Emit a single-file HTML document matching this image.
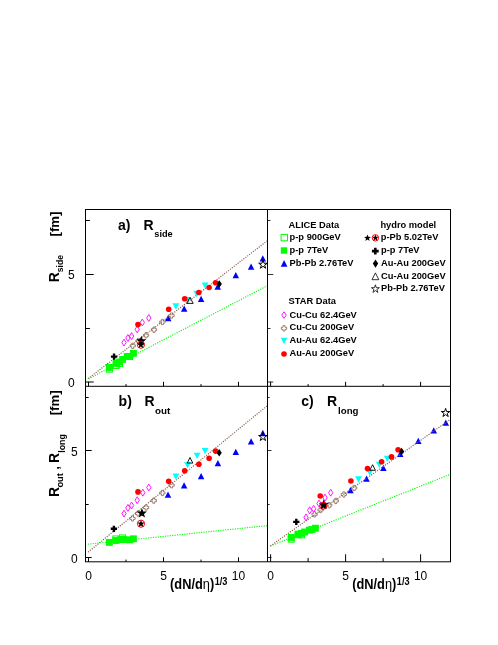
<!DOCTYPE html>
<html><head><meta charset="utf-8"><title>HBT radii</title>
<style>
html,body{margin:0;padding:0;background:#fff;}
body{width:498px;height:645px;position:relative;overflow:hidden;font-family:"Liberation Sans",sans-serif;}
</style></head><body>
<svg width="498" height="645" viewBox="0 0 498 645" style="position:absolute;left:0;top:0;font-family:'Liberation Sans',sans-serif">
<rect x="0" y="0" width="498" height="645" fill="#fff"/>
<rect x="106.45" y="366.20" width="5.9" height="5.9" fill="none" stroke="#00ff00" stroke-width="1"/>
<rect x="113.25" y="362.55" width="5.9" height="5.9" fill="none" stroke="#00ff00" stroke-width="1"/>
<rect x="116.65" y="360.65" width="5.9" height="5.9" fill="none" stroke="#00ff00" stroke-width="1"/>
<rect x="105.95" y="363.95" width="6.9" height="6.9" fill="#00ff00"/>
<rect x="112.65" y="359.95" width="6.9" height="6.9" fill="#00ff00"/>
<rect x="116.15" y="358.55" width="6.9" height="6.9" fill="#00ff00"/>
<rect x="119.15" y="355.95" width="6.9" height="6.9" fill="#00ff00"/>
<rect x="123.85" y="353.05" width="6.9" height="6.9" fill="#00ff00"/>
<rect x="126.25" y="353.15" width="6.9" height="6.9" fill="#00ff00"/>
<rect x="129.95" y="349.85" width="6.9" height="6.9" fill="#00ff00"/>
<polygon points="168.20,314.85 171.45,321.15 164.95,321.15" fill="#0000ff"/>
<polygon points="184.20,305.45 187.45,311.75 180.95,311.75" fill="#0000ff"/>
<polygon points="201.10,295.65 204.35,301.95 197.85,301.95" fill="#0000ff"/>
<polygon points="217.70,283.55 220.95,289.85 214.45,289.85" fill="#0000ff"/>
<polygon points="235.80,272.05 239.05,278.35 232.55,278.35" fill="#0000ff"/>
<polygon points="251.10,263.55 254.35,269.85 247.85,269.85" fill="#0000ff"/>
<polygon points="262.80,255.15 266.05,261.45 259.55,261.45" fill="#0000ff"/>
<rect x="112.75" y="535.95" width="5.9" height="5.9" fill="none" stroke="#00ff00" stroke-width="1"/>
<rect x="119.55" y="534.95" width="5.9" height="5.9" fill="none" stroke="#00ff00" stroke-width="1"/>
<rect x="105.95" y="538.95" width="6.9" height="6.9" fill="#00ff00"/>
<rect x="112.65" y="537.05" width="6.9" height="6.9" fill="#00ff00"/>
<rect x="117.55" y="536.15" width="6.9" height="6.9" fill="#00ff00"/>
<rect x="120.15" y="536.05" width="6.9" height="6.9" fill="#00ff00"/>
<rect x="126.05" y="536.35" width="6.9" height="6.9" fill="#00ff00"/>
<rect x="129.95" y="535.35" width="6.9" height="6.9" fill="#00ff00"/>
<polygon points="168.00,491.45 171.25,497.75 164.75,497.75" fill="#0000ff"/>
<polygon points="184.10,482.25 187.35,488.55 180.85,488.55" fill="#0000ff"/>
<polygon points="201.10,472.95 204.35,479.25 197.85,479.25" fill="#0000ff"/>
<polygon points="217.90,459.95 221.15,466.25 214.65,466.25" fill="#0000ff"/>
<polygon points="235.80,448.65 239.05,454.95 232.55,454.95" fill="#0000ff"/>
<polygon points="251.10,438.25 254.35,444.55 247.85,444.55" fill="#0000ff"/>
<polygon points="262.80,429.85 266.05,436.15 259.55,436.15" fill="#0000ff"/>
<rect x="288.25" y="536.25" width="5.9" height="5.9" fill="none" stroke="#00ff00" stroke-width="1"/>
<rect x="295.15" y="531.85" width="5.9" height="5.9" fill="none" stroke="#00ff00" stroke-width="1"/>
<rect x="298.65" y="531.95" width="5.9" height="5.9" fill="none" stroke="#00ff00" stroke-width="1"/>
<rect x="287.75" y="533.95" width="6.9" height="6.9" fill="#00ff00"/>
<rect x="294.65" y="530.70" width="6.9" height="6.9" fill="#00ff00"/>
<rect x="297.95" y="529.95" width="6.9" height="6.9" fill="#00ff00"/>
<rect x="301.15" y="528.55" width="6.9" height="6.9" fill="#00ff00"/>
<rect x="305.85" y="526.75" width="6.9" height="6.9" fill="#00ff00"/>
<rect x="308.55" y="526.05" width="6.9" height="6.9" fill="#00ff00"/>
<rect x="311.95" y="524.75" width="6.9" height="6.9" fill="#00ff00"/>
<polygon points="350.40,487.05 353.65,493.35 347.15,493.35" fill="#0000ff"/>
<polygon points="366.50,475.45 369.75,481.75 363.25,481.75" fill="#0000ff"/>
<polygon points="383.40,464.75 386.65,471.05 380.15,471.05" fill="#0000ff"/>
<polygon points="400.20,450.75 403.45,457.05 396.95,457.05" fill="#0000ff"/>
<polygon points="418.30,437.65 421.55,443.95 415.05,443.95" fill="#0000ff"/>
<polygon points="433.80,427.15 437.05,433.45 430.55,433.45" fill="#0000ff"/>
<polygon points="445.80,419.55 449.05,425.85 442.55,425.85" fill="#0000ff"/>
<path d="M87.82 378.30a0.68 0.68 0 1 0 1.36 0a0.68 0.68 0 1 0 -1.36 0M89.74 376.82a0.68 0.68 0 1 0 1.36 0a0.68 0.68 0 1 0 -1.36 0M91.66 375.35a0.68 0.68 0 1 0 1.36 0a0.68 0.68 0 1 0 -1.36 0M93.57 373.87a0.68 0.68 0 1 0 1.36 0a0.68 0.68 0 1 0 -1.36 0M95.49 372.40a0.68 0.68 0 1 0 1.36 0a0.68 0.68 0 1 0 -1.36 0M97.41 370.92a0.68 0.68 0 1 0 1.36 0a0.68 0.68 0 1 0 -1.36 0M99.33 369.45a0.68 0.68 0 1 0 1.36 0a0.68 0.68 0 1 0 -1.36 0M101.25 367.97a0.68 0.68 0 1 0 1.36 0a0.68 0.68 0 1 0 -1.36 0M103.17 366.50a0.68 0.68 0 1 0 1.36 0a0.68 0.68 0 1 0 -1.36 0M105.08 365.02a0.68 0.68 0 1 0 1.36 0a0.68 0.68 0 1 0 -1.36 0M107.00 363.55a0.68 0.68 0 1 0 1.36 0a0.68 0.68 0 1 0 -1.36 0M108.92 362.07a0.68 0.68 0 1 0 1.36 0a0.68 0.68 0 1 0 -1.36 0M110.84 360.60a0.68 0.68 0 1 0 1.36 0a0.68 0.68 0 1 0 -1.36 0M112.76 359.12a0.68 0.68 0 1 0 1.36 0a0.68 0.68 0 1 0 -1.36 0M114.68 357.64a0.68 0.68 0 1 0 1.36 0a0.68 0.68 0 1 0 -1.36 0M116.59 356.17a0.68 0.68 0 1 0 1.36 0a0.68 0.68 0 1 0 -1.36 0M118.51 354.69a0.68 0.68 0 1 0 1.36 0a0.68 0.68 0 1 0 -1.36 0M120.43 353.22a0.68 0.68 0 1 0 1.36 0a0.68 0.68 0 1 0 -1.36 0M122.35 351.74a0.68 0.68 0 1 0 1.36 0a0.68 0.68 0 1 0 -1.36 0M124.27 350.27a0.68 0.68 0 1 0 1.36 0a0.68 0.68 0 1 0 -1.36 0M126.18 348.79a0.68 0.68 0 1 0 1.36 0a0.68 0.68 0 1 0 -1.36 0M128.10 347.32a0.68 0.68 0 1 0 1.36 0a0.68 0.68 0 1 0 -1.36 0M130.02 345.84a0.68 0.68 0 1 0 1.36 0a0.68 0.68 0 1 0 -1.36 0M131.94 344.37a0.68 0.68 0 1 0 1.36 0a0.68 0.68 0 1 0 -1.36 0M133.86 342.89a0.68 0.68 0 1 0 1.36 0a0.68 0.68 0 1 0 -1.36 0M135.78 341.42a0.68 0.68 0 1 0 1.36 0a0.68 0.68 0 1 0 -1.36 0M137.69 339.94a0.68 0.68 0 1 0 1.36 0a0.68 0.68 0 1 0 -1.36 0M139.61 338.46a0.68 0.68 0 1 0 1.36 0a0.68 0.68 0 1 0 -1.36 0M141.53 336.99a0.68 0.68 0 1 0 1.36 0a0.68 0.68 0 1 0 -1.36 0M143.45 335.51a0.68 0.68 0 1 0 1.36 0a0.68 0.68 0 1 0 -1.36 0M145.37 334.04a0.68 0.68 0 1 0 1.36 0a0.68 0.68 0 1 0 -1.36 0M147.29 332.56a0.68 0.68 0 1 0 1.36 0a0.68 0.68 0 1 0 -1.36 0M149.20 331.09a0.68 0.68 0 1 0 1.36 0a0.68 0.68 0 1 0 -1.36 0M151.12 329.61a0.68 0.68 0 1 0 1.36 0a0.68 0.68 0 1 0 -1.36 0M153.04 328.14a0.68 0.68 0 1 0 1.36 0a0.68 0.68 0 1 0 -1.36 0M154.96 326.66a0.68 0.68 0 1 0 1.36 0a0.68 0.68 0 1 0 -1.36 0M156.88 325.19a0.68 0.68 0 1 0 1.36 0a0.68 0.68 0 1 0 -1.36 0M158.79 323.71a0.68 0.68 0 1 0 1.36 0a0.68 0.68 0 1 0 -1.36 0M160.71 322.23a0.68 0.68 0 1 0 1.36 0a0.68 0.68 0 1 0 -1.36 0M162.63 320.76a0.68 0.68 0 1 0 1.36 0a0.68 0.68 0 1 0 -1.36 0M164.55 319.28a0.68 0.68 0 1 0 1.36 0a0.68 0.68 0 1 0 -1.36 0M166.47 317.81a0.68 0.68 0 1 0 1.36 0a0.68 0.68 0 1 0 -1.36 0M168.39 316.33a0.68 0.68 0 1 0 1.36 0a0.68 0.68 0 1 0 -1.36 0M170.30 314.86a0.68 0.68 0 1 0 1.36 0a0.68 0.68 0 1 0 -1.36 0M172.22 313.38a0.68 0.68 0 1 0 1.36 0a0.68 0.68 0 1 0 -1.36 0M174.14 311.91a0.68 0.68 0 1 0 1.36 0a0.68 0.68 0 1 0 -1.36 0M176.06 310.43a0.68 0.68 0 1 0 1.36 0a0.68 0.68 0 1 0 -1.36 0M177.98 308.96a0.68 0.68 0 1 0 1.36 0a0.68 0.68 0 1 0 -1.36 0M179.90 307.48a0.68 0.68 0 1 0 1.36 0a0.68 0.68 0 1 0 -1.36 0M181.81 306.01a0.68 0.68 0 1 0 1.36 0a0.68 0.68 0 1 0 -1.36 0M183.73 304.53a0.68 0.68 0 1 0 1.36 0a0.68 0.68 0 1 0 -1.36 0M185.65 303.05a0.68 0.68 0 1 0 1.36 0a0.68 0.68 0 1 0 -1.36 0M187.57 301.58a0.68 0.68 0 1 0 1.36 0a0.68 0.68 0 1 0 -1.36 0M189.49 300.10a0.68 0.68 0 1 0 1.36 0a0.68 0.68 0 1 0 -1.36 0M191.40 298.63a0.68 0.68 0 1 0 1.36 0a0.68 0.68 0 1 0 -1.36 0M193.32 297.15a0.68 0.68 0 1 0 1.36 0a0.68 0.68 0 1 0 -1.36 0M195.24 295.68a0.68 0.68 0 1 0 1.36 0a0.68 0.68 0 1 0 -1.36 0M197.16 294.20a0.68 0.68 0 1 0 1.36 0a0.68 0.68 0 1 0 -1.36 0M199.08 292.73a0.68 0.68 0 1 0 1.36 0a0.68 0.68 0 1 0 -1.36 0M201.00 291.25a0.68 0.68 0 1 0 1.36 0a0.68 0.68 0 1 0 -1.36 0M202.91 289.78a0.68 0.68 0 1 0 1.36 0a0.68 0.68 0 1 0 -1.36 0M204.83 288.30a0.68 0.68 0 1 0 1.36 0a0.68 0.68 0 1 0 -1.36 0M206.75 286.83a0.68 0.68 0 1 0 1.36 0a0.68 0.68 0 1 0 -1.36 0M208.67 285.35a0.68 0.68 0 1 0 1.36 0a0.68 0.68 0 1 0 -1.36 0M210.59 283.87a0.68 0.68 0 1 0 1.36 0a0.68 0.68 0 1 0 -1.36 0M212.50 282.40a0.68 0.68 0 1 0 1.36 0a0.68 0.68 0 1 0 -1.36 0M214.42 280.92a0.68 0.68 0 1 0 1.36 0a0.68 0.68 0 1 0 -1.36 0M216.34 279.45a0.68 0.68 0 1 0 1.36 0a0.68 0.68 0 1 0 -1.36 0M218.26 277.97a0.68 0.68 0 1 0 1.36 0a0.68 0.68 0 1 0 -1.36 0M220.18 276.50a0.68 0.68 0 1 0 1.36 0a0.68 0.68 0 1 0 -1.36 0M222.10 275.02a0.68 0.68 0 1 0 1.36 0a0.68 0.68 0 1 0 -1.36 0M224.01 273.55a0.68 0.68 0 1 0 1.36 0a0.68 0.68 0 1 0 -1.36 0M225.93 272.07a0.68 0.68 0 1 0 1.36 0a0.68 0.68 0 1 0 -1.36 0M227.85 270.60a0.68 0.68 0 1 0 1.36 0a0.68 0.68 0 1 0 -1.36 0M229.77 269.12a0.68 0.68 0 1 0 1.36 0a0.68 0.68 0 1 0 -1.36 0M231.69 267.65a0.68 0.68 0 1 0 1.36 0a0.68 0.68 0 1 0 -1.36 0M233.61 266.17a0.68 0.68 0 1 0 1.36 0a0.68 0.68 0 1 0 -1.36 0M235.52 264.69a0.68 0.68 0 1 0 1.36 0a0.68 0.68 0 1 0 -1.36 0M237.44 263.22a0.68 0.68 0 1 0 1.36 0a0.68 0.68 0 1 0 -1.36 0M239.36 261.74a0.68 0.68 0 1 0 1.36 0a0.68 0.68 0 1 0 -1.36 0M241.28 260.27a0.68 0.68 0 1 0 1.36 0a0.68 0.68 0 1 0 -1.36 0M243.20 258.79a0.68 0.68 0 1 0 1.36 0a0.68 0.68 0 1 0 -1.36 0M245.11 257.32a0.68 0.68 0 1 0 1.36 0a0.68 0.68 0 1 0 -1.36 0M247.03 255.84a0.68 0.68 0 1 0 1.36 0a0.68 0.68 0 1 0 -1.36 0M248.95 254.37a0.68 0.68 0 1 0 1.36 0a0.68 0.68 0 1 0 -1.36 0M250.87 252.89a0.68 0.68 0 1 0 1.36 0a0.68 0.68 0 1 0 -1.36 0M252.79 251.42a0.68 0.68 0 1 0 1.36 0a0.68 0.68 0 1 0 -1.36 0M254.71 249.94a0.68 0.68 0 1 0 1.36 0a0.68 0.68 0 1 0 -1.36 0M256.62 248.47a0.68 0.68 0 1 0 1.36 0a0.68 0.68 0 1 0 -1.36 0M258.54 246.99a0.68 0.68 0 1 0 1.36 0a0.68 0.68 0 1 0 -1.36 0M260.46 245.51a0.68 0.68 0 1 0 1.36 0a0.68 0.68 0 1 0 -1.36 0M262.38 244.04a0.68 0.68 0 1 0 1.36 0a0.68 0.68 0 1 0 -1.36 0M264.30 242.56a0.68 0.68 0 1 0 1.36 0a0.68 0.68 0 1 0 -1.36 0M266.22 241.09a0.68 0.68 0 1 0 1.36 0a0.68 0.68 0 1 0 -1.36 0" fill="#8a6355"/>
<path d="M88.32 378.50a0.68 0.68 0 1 0 1.36 0a0.68 0.68 0 1 0 -1.36 0M90.47 377.38a0.68 0.68 0 1 0 1.36 0a0.68 0.68 0 1 0 -1.36 0M92.61 376.27a0.68 0.68 0 1 0 1.36 0a0.68 0.68 0 1 0 -1.36 0M94.76 375.15a0.68 0.68 0 1 0 1.36 0a0.68 0.68 0 1 0 -1.36 0M96.91 374.03a0.68 0.68 0 1 0 1.36 0a0.68 0.68 0 1 0 -1.36 0M99.05 372.92a0.68 0.68 0 1 0 1.36 0a0.68 0.68 0 1 0 -1.36 0M101.20 371.80a0.68 0.68 0 1 0 1.36 0a0.68 0.68 0 1 0 -1.36 0M103.35 370.68a0.68 0.68 0 1 0 1.36 0a0.68 0.68 0 1 0 -1.36 0M105.50 369.57a0.68 0.68 0 1 0 1.36 0a0.68 0.68 0 1 0 -1.36 0M107.64 368.45a0.68 0.68 0 1 0 1.36 0a0.68 0.68 0 1 0 -1.36 0M109.79 367.33a0.68 0.68 0 1 0 1.36 0a0.68 0.68 0 1 0 -1.36 0M111.94 366.22a0.68 0.68 0 1 0 1.36 0a0.68 0.68 0 1 0 -1.36 0M114.08 365.10a0.68 0.68 0 1 0 1.36 0a0.68 0.68 0 1 0 -1.36 0M116.23 363.98a0.68 0.68 0 1 0 1.36 0a0.68 0.68 0 1 0 -1.36 0M118.38 362.87a0.68 0.68 0 1 0 1.36 0a0.68 0.68 0 1 0 -1.36 0M120.52 361.75a0.68 0.68 0 1 0 1.36 0a0.68 0.68 0 1 0 -1.36 0M122.67 360.63a0.68 0.68 0 1 0 1.36 0a0.68 0.68 0 1 0 -1.36 0M124.82 359.51a0.68 0.68 0 1 0 1.36 0a0.68 0.68 0 1 0 -1.36 0M126.96 358.40a0.68 0.68 0 1 0 1.36 0a0.68 0.68 0 1 0 -1.36 0M129.11 357.28a0.68 0.68 0 1 0 1.36 0a0.68 0.68 0 1 0 -1.36 0M131.26 356.16a0.68 0.68 0 1 0 1.36 0a0.68 0.68 0 1 0 -1.36 0M133.41 355.05a0.68 0.68 0 1 0 1.36 0a0.68 0.68 0 1 0 -1.36 0M135.55 353.93a0.68 0.68 0 1 0 1.36 0a0.68 0.68 0 1 0 -1.36 0M137.70 352.81a0.68 0.68 0 1 0 1.36 0a0.68 0.68 0 1 0 -1.36 0M139.85 351.70a0.68 0.68 0 1 0 1.36 0a0.68 0.68 0 1 0 -1.36 0M141.99 350.58a0.68 0.68 0 1 0 1.36 0a0.68 0.68 0 1 0 -1.36 0M144.14 349.46a0.68 0.68 0 1 0 1.36 0a0.68 0.68 0 1 0 -1.36 0M146.29 348.35a0.68 0.68 0 1 0 1.36 0a0.68 0.68 0 1 0 -1.36 0M148.43 347.23a0.68 0.68 0 1 0 1.36 0a0.68 0.68 0 1 0 -1.36 0M150.58 346.11a0.68 0.68 0 1 0 1.36 0a0.68 0.68 0 1 0 -1.36 0M152.73 345.00a0.68 0.68 0 1 0 1.36 0a0.68 0.68 0 1 0 -1.36 0M154.87 343.88a0.68 0.68 0 1 0 1.36 0a0.68 0.68 0 1 0 -1.36 0M157.02 342.76a0.68 0.68 0 1 0 1.36 0a0.68 0.68 0 1 0 -1.36 0M159.17 341.65a0.68 0.68 0 1 0 1.36 0a0.68 0.68 0 1 0 -1.36 0M161.31 340.53a0.68 0.68 0 1 0 1.36 0a0.68 0.68 0 1 0 -1.36 0M163.46 339.41a0.68 0.68 0 1 0 1.36 0a0.68 0.68 0 1 0 -1.36 0M165.61 338.30a0.68 0.68 0 1 0 1.36 0a0.68 0.68 0 1 0 -1.36 0M167.76 337.18a0.68 0.68 0 1 0 1.36 0a0.68 0.68 0 1 0 -1.36 0M169.90 336.06a0.68 0.68 0 1 0 1.36 0a0.68 0.68 0 1 0 -1.36 0M172.05 334.95a0.68 0.68 0 1 0 1.36 0a0.68 0.68 0 1 0 -1.36 0M174.20 333.83a0.68 0.68 0 1 0 1.36 0a0.68 0.68 0 1 0 -1.36 0M176.34 332.71a0.68 0.68 0 1 0 1.36 0a0.68 0.68 0 1 0 -1.36 0M178.49 331.60a0.68 0.68 0 1 0 1.36 0a0.68 0.68 0 1 0 -1.36 0M180.64 330.48a0.68 0.68 0 1 0 1.36 0a0.68 0.68 0 1 0 -1.36 0M182.78 329.36a0.68 0.68 0 1 0 1.36 0a0.68 0.68 0 1 0 -1.36 0M184.93 328.25a0.68 0.68 0 1 0 1.36 0a0.68 0.68 0 1 0 -1.36 0M187.08 327.13a0.68 0.68 0 1 0 1.36 0a0.68 0.68 0 1 0 -1.36 0M189.22 326.01a0.68 0.68 0 1 0 1.36 0a0.68 0.68 0 1 0 -1.36 0M191.37 324.89a0.68 0.68 0 1 0 1.36 0a0.68 0.68 0 1 0 -1.36 0M193.52 323.78a0.68 0.68 0 1 0 1.36 0a0.68 0.68 0 1 0 -1.36 0M195.67 322.66a0.68 0.68 0 1 0 1.36 0a0.68 0.68 0 1 0 -1.36 0M197.81 321.54a0.68 0.68 0 1 0 1.36 0a0.68 0.68 0 1 0 -1.36 0M199.96 320.43a0.68 0.68 0 1 0 1.36 0a0.68 0.68 0 1 0 -1.36 0M202.11 319.31a0.68 0.68 0 1 0 1.36 0a0.68 0.68 0 1 0 -1.36 0M204.25 318.19a0.68 0.68 0 1 0 1.36 0a0.68 0.68 0 1 0 -1.36 0M206.40 317.08a0.68 0.68 0 1 0 1.36 0a0.68 0.68 0 1 0 -1.36 0M208.55 315.96a0.68 0.68 0 1 0 1.36 0a0.68 0.68 0 1 0 -1.36 0M210.69 314.84a0.68 0.68 0 1 0 1.36 0a0.68 0.68 0 1 0 -1.36 0M212.84 313.73a0.68 0.68 0 1 0 1.36 0a0.68 0.68 0 1 0 -1.36 0M214.99 312.61a0.68 0.68 0 1 0 1.36 0a0.68 0.68 0 1 0 -1.36 0M217.13 311.49a0.68 0.68 0 1 0 1.36 0a0.68 0.68 0 1 0 -1.36 0M219.28 310.38a0.68 0.68 0 1 0 1.36 0a0.68 0.68 0 1 0 -1.36 0M221.43 309.26a0.68 0.68 0 1 0 1.36 0a0.68 0.68 0 1 0 -1.36 0M223.58 308.14a0.68 0.68 0 1 0 1.36 0a0.68 0.68 0 1 0 -1.36 0M225.72 307.03a0.68 0.68 0 1 0 1.36 0a0.68 0.68 0 1 0 -1.36 0M227.87 305.91a0.68 0.68 0 1 0 1.36 0a0.68 0.68 0 1 0 -1.36 0M230.02 304.79a0.68 0.68 0 1 0 1.36 0a0.68 0.68 0 1 0 -1.36 0M232.16 303.68a0.68 0.68 0 1 0 1.36 0a0.68 0.68 0 1 0 -1.36 0M234.31 302.56a0.68 0.68 0 1 0 1.36 0a0.68 0.68 0 1 0 -1.36 0M236.46 301.44a0.68 0.68 0 1 0 1.36 0a0.68 0.68 0 1 0 -1.36 0M238.60 300.33a0.68 0.68 0 1 0 1.36 0a0.68 0.68 0 1 0 -1.36 0M240.75 299.21a0.68 0.68 0 1 0 1.36 0a0.68 0.68 0 1 0 -1.36 0M242.90 298.09a0.68 0.68 0 1 0 1.36 0a0.68 0.68 0 1 0 -1.36 0M245.04 296.98a0.68 0.68 0 1 0 1.36 0a0.68 0.68 0 1 0 -1.36 0M247.19 295.86a0.68 0.68 0 1 0 1.36 0a0.68 0.68 0 1 0 -1.36 0M249.34 294.74a0.68 0.68 0 1 0 1.36 0a0.68 0.68 0 1 0 -1.36 0M251.48 293.62a0.68 0.68 0 1 0 1.36 0a0.68 0.68 0 1 0 -1.36 0M253.63 292.51a0.68 0.68 0 1 0 1.36 0a0.68 0.68 0 1 0 -1.36 0M255.78 291.39a0.68 0.68 0 1 0 1.36 0a0.68 0.68 0 1 0 -1.36 0M257.93 290.27a0.68 0.68 0 1 0 1.36 0a0.68 0.68 0 1 0 -1.36 0M260.07 289.16a0.68 0.68 0 1 0 1.36 0a0.68 0.68 0 1 0 -1.36 0M262.22 288.04a0.68 0.68 0 1 0 1.36 0a0.68 0.68 0 1 0 -1.36 0M264.37 286.92a0.68 0.68 0 1 0 1.36 0a0.68 0.68 0 1 0 -1.36 0M266.51 285.81a0.68 0.68 0 1 0 1.36 0a0.68 0.68 0 1 0 -1.36 0" fill="#00ff00"/>
<path d="M87.82 551.80a0.68 0.68 0 1 0 1.36 0a0.68 0.68 0 1 0 -1.36 0M89.69 550.27a0.68 0.68 0 1 0 1.36 0a0.68 0.68 0 1 0 -1.36 0M91.57 548.74a0.68 0.68 0 1 0 1.36 0a0.68 0.68 0 1 0 -1.36 0M93.44 547.21a0.68 0.68 0 1 0 1.36 0a0.68 0.68 0 1 0 -1.36 0M95.32 545.67a0.68 0.68 0 1 0 1.36 0a0.68 0.68 0 1 0 -1.36 0M97.19 544.14a0.68 0.68 0 1 0 1.36 0a0.68 0.68 0 1 0 -1.36 0M99.06 542.61a0.68 0.68 0 1 0 1.36 0a0.68 0.68 0 1 0 -1.36 0M100.94 541.08a0.68 0.68 0 1 0 1.36 0a0.68 0.68 0 1 0 -1.36 0M102.81 539.55a0.68 0.68 0 1 0 1.36 0a0.68 0.68 0 1 0 -1.36 0M104.68 538.02a0.68 0.68 0 1 0 1.36 0a0.68 0.68 0 1 0 -1.36 0M106.56 536.49a0.68 0.68 0 1 0 1.36 0a0.68 0.68 0 1 0 -1.36 0M108.43 534.96a0.68 0.68 0 1 0 1.36 0a0.68 0.68 0 1 0 -1.36 0M110.31 533.42a0.68 0.68 0 1 0 1.36 0a0.68 0.68 0 1 0 -1.36 0M112.18 531.89a0.68 0.68 0 1 0 1.36 0a0.68 0.68 0 1 0 -1.36 0M114.05 530.36a0.68 0.68 0 1 0 1.36 0a0.68 0.68 0 1 0 -1.36 0M115.93 528.83a0.68 0.68 0 1 0 1.36 0a0.68 0.68 0 1 0 -1.36 0M117.80 527.30a0.68 0.68 0 1 0 1.36 0a0.68 0.68 0 1 0 -1.36 0M119.68 525.77a0.68 0.68 0 1 0 1.36 0a0.68 0.68 0 1 0 -1.36 0M121.55 524.24a0.68 0.68 0 1 0 1.36 0a0.68 0.68 0 1 0 -1.36 0M123.42 522.70a0.68 0.68 0 1 0 1.36 0a0.68 0.68 0 1 0 -1.36 0M125.30 521.17a0.68 0.68 0 1 0 1.36 0a0.68 0.68 0 1 0 -1.36 0M127.17 519.64a0.68 0.68 0 1 0 1.36 0a0.68 0.68 0 1 0 -1.36 0M129.04 518.11a0.68 0.68 0 1 0 1.36 0a0.68 0.68 0 1 0 -1.36 0M130.92 516.58a0.68 0.68 0 1 0 1.36 0a0.68 0.68 0 1 0 -1.36 0M132.79 515.05a0.68 0.68 0 1 0 1.36 0a0.68 0.68 0 1 0 -1.36 0M134.67 513.52a0.68 0.68 0 1 0 1.36 0a0.68 0.68 0 1 0 -1.36 0M136.54 511.98a0.68 0.68 0 1 0 1.36 0a0.68 0.68 0 1 0 -1.36 0M138.41 510.45a0.68 0.68 0 1 0 1.36 0a0.68 0.68 0 1 0 -1.36 0M140.29 508.92a0.68 0.68 0 1 0 1.36 0a0.68 0.68 0 1 0 -1.36 0M142.16 507.39a0.68 0.68 0 1 0 1.36 0a0.68 0.68 0 1 0 -1.36 0M144.04 505.86a0.68 0.68 0 1 0 1.36 0a0.68 0.68 0 1 0 -1.36 0M145.91 504.33a0.68 0.68 0 1 0 1.36 0a0.68 0.68 0 1 0 -1.36 0M147.78 502.80a0.68 0.68 0 1 0 1.36 0a0.68 0.68 0 1 0 -1.36 0M149.66 501.27a0.68 0.68 0 1 0 1.36 0a0.68 0.68 0 1 0 -1.36 0M151.53 499.73a0.68 0.68 0 1 0 1.36 0a0.68 0.68 0 1 0 -1.36 0M153.41 498.20a0.68 0.68 0 1 0 1.36 0a0.68 0.68 0 1 0 -1.36 0M155.28 496.67a0.68 0.68 0 1 0 1.36 0a0.68 0.68 0 1 0 -1.36 0M157.15 495.14a0.68 0.68 0 1 0 1.36 0a0.68 0.68 0 1 0 -1.36 0M159.03 493.61a0.68 0.68 0 1 0 1.36 0a0.68 0.68 0 1 0 -1.36 0M160.90 492.08a0.68 0.68 0 1 0 1.36 0a0.68 0.68 0 1 0 -1.36 0M162.77 490.55a0.68 0.68 0 1 0 1.36 0a0.68 0.68 0 1 0 -1.36 0M164.65 489.01a0.68 0.68 0 1 0 1.36 0a0.68 0.68 0 1 0 -1.36 0M166.52 487.48a0.68 0.68 0 1 0 1.36 0a0.68 0.68 0 1 0 -1.36 0M168.40 485.95a0.68 0.68 0 1 0 1.36 0a0.68 0.68 0 1 0 -1.36 0M170.27 484.42a0.68 0.68 0 1 0 1.36 0a0.68 0.68 0 1 0 -1.36 0M172.14 482.89a0.68 0.68 0 1 0 1.36 0a0.68 0.68 0 1 0 -1.36 0M174.02 481.36a0.68 0.68 0 1 0 1.36 0a0.68 0.68 0 1 0 -1.36 0M175.89 479.83a0.68 0.68 0 1 0 1.36 0a0.68 0.68 0 1 0 -1.36 0M177.77 478.30a0.68 0.68 0 1 0 1.36 0a0.68 0.68 0 1 0 -1.36 0M179.64 476.76a0.68 0.68 0 1 0 1.36 0a0.68 0.68 0 1 0 -1.36 0M181.51 475.23a0.68 0.68 0 1 0 1.36 0a0.68 0.68 0 1 0 -1.36 0M183.39 473.70a0.68 0.68 0 1 0 1.36 0a0.68 0.68 0 1 0 -1.36 0M185.26 472.17a0.68 0.68 0 1 0 1.36 0a0.68 0.68 0 1 0 -1.36 0M187.13 470.64a0.68 0.68 0 1 0 1.36 0a0.68 0.68 0 1 0 -1.36 0M189.01 469.11a0.68 0.68 0 1 0 1.36 0a0.68 0.68 0 1 0 -1.36 0M190.88 467.58a0.68 0.68 0 1 0 1.36 0a0.68 0.68 0 1 0 -1.36 0M192.76 466.04a0.68 0.68 0 1 0 1.36 0a0.68 0.68 0 1 0 -1.36 0M194.63 464.51a0.68 0.68 0 1 0 1.36 0a0.68 0.68 0 1 0 -1.36 0M196.50 462.98a0.68 0.68 0 1 0 1.36 0a0.68 0.68 0 1 0 -1.36 0M198.38 461.45a0.68 0.68 0 1 0 1.36 0a0.68 0.68 0 1 0 -1.36 0M200.25 459.92a0.68 0.68 0 1 0 1.36 0a0.68 0.68 0 1 0 -1.36 0M202.13 458.39a0.68 0.68 0 1 0 1.36 0a0.68 0.68 0 1 0 -1.36 0M204.00 456.86a0.68 0.68 0 1 0 1.36 0a0.68 0.68 0 1 0 -1.36 0M205.87 455.32a0.68 0.68 0 1 0 1.36 0a0.68 0.68 0 1 0 -1.36 0M207.75 453.79a0.68 0.68 0 1 0 1.36 0a0.68 0.68 0 1 0 -1.36 0M209.62 452.26a0.68 0.68 0 1 0 1.36 0a0.68 0.68 0 1 0 -1.36 0M211.49 450.73a0.68 0.68 0 1 0 1.36 0a0.68 0.68 0 1 0 -1.36 0M213.37 449.20a0.68 0.68 0 1 0 1.36 0a0.68 0.68 0 1 0 -1.36 0M215.24 447.67a0.68 0.68 0 1 0 1.36 0a0.68 0.68 0 1 0 -1.36 0M217.12 446.14a0.68 0.68 0 1 0 1.36 0a0.68 0.68 0 1 0 -1.36 0M218.99 444.61a0.68 0.68 0 1 0 1.36 0a0.68 0.68 0 1 0 -1.36 0M220.86 443.07a0.68 0.68 0 1 0 1.36 0a0.68 0.68 0 1 0 -1.36 0M222.74 441.54a0.68 0.68 0 1 0 1.36 0a0.68 0.68 0 1 0 -1.36 0M224.61 440.01a0.68 0.68 0 1 0 1.36 0a0.68 0.68 0 1 0 -1.36 0M226.49 438.48a0.68 0.68 0 1 0 1.36 0a0.68 0.68 0 1 0 -1.36 0M228.36 436.95a0.68 0.68 0 1 0 1.36 0a0.68 0.68 0 1 0 -1.36 0M230.23 435.42a0.68 0.68 0 1 0 1.36 0a0.68 0.68 0 1 0 -1.36 0M232.11 433.89a0.68 0.68 0 1 0 1.36 0a0.68 0.68 0 1 0 -1.36 0M233.98 432.35a0.68 0.68 0 1 0 1.36 0a0.68 0.68 0 1 0 -1.36 0M235.86 430.82a0.68 0.68 0 1 0 1.36 0a0.68 0.68 0 1 0 -1.36 0M237.73 429.29a0.68 0.68 0 1 0 1.36 0a0.68 0.68 0 1 0 -1.36 0M239.60 427.76a0.68 0.68 0 1 0 1.36 0a0.68 0.68 0 1 0 -1.36 0M241.48 426.23a0.68 0.68 0 1 0 1.36 0a0.68 0.68 0 1 0 -1.36 0M243.35 424.70a0.68 0.68 0 1 0 1.36 0a0.68 0.68 0 1 0 -1.36 0M245.22 423.17a0.68 0.68 0 1 0 1.36 0a0.68 0.68 0 1 0 -1.36 0M247.10 421.64a0.68 0.68 0 1 0 1.36 0a0.68 0.68 0 1 0 -1.36 0M248.97 420.10a0.68 0.68 0 1 0 1.36 0a0.68 0.68 0 1 0 -1.36 0M250.85 418.57a0.68 0.68 0 1 0 1.36 0a0.68 0.68 0 1 0 -1.36 0M252.72 417.04a0.68 0.68 0 1 0 1.36 0a0.68 0.68 0 1 0 -1.36 0M254.59 415.51a0.68 0.68 0 1 0 1.36 0a0.68 0.68 0 1 0 -1.36 0M256.47 413.98a0.68 0.68 0 1 0 1.36 0a0.68 0.68 0 1 0 -1.36 0M258.34 412.45a0.68 0.68 0 1 0 1.36 0a0.68 0.68 0 1 0 -1.36 0M260.22 410.92a0.68 0.68 0 1 0 1.36 0a0.68 0.68 0 1 0 -1.36 0M262.09 409.38a0.68 0.68 0 1 0 1.36 0a0.68 0.68 0 1 0 -1.36 0M263.96 407.85a0.68 0.68 0 1 0 1.36 0a0.68 0.68 0 1 0 -1.36 0M265.84 406.32a0.68 0.68 0 1 0 1.36 0a0.68 0.68 0 1 0 -1.36 0" fill="#8a6355"/>
<path d="M87.82 544.10a0.68 0.68 0 1 0 1.36 0a0.68 0.68 0 1 0 -1.36 0M90.23 543.85a0.68 0.68 0 1 0 1.36 0a0.68 0.68 0 1 0 -1.36 0M92.63 543.60a0.68 0.68 0 1 0 1.36 0a0.68 0.68 0 1 0 -1.36 0M95.04 543.35a0.68 0.68 0 1 0 1.36 0a0.68 0.68 0 1 0 -1.36 0M97.45 543.10a0.68 0.68 0 1 0 1.36 0a0.68 0.68 0 1 0 -1.36 0M99.86 542.86a0.68 0.68 0 1 0 1.36 0a0.68 0.68 0 1 0 -1.36 0M102.26 542.61a0.68 0.68 0 1 0 1.36 0a0.68 0.68 0 1 0 -1.36 0M104.67 542.36a0.68 0.68 0 1 0 1.36 0a0.68 0.68 0 1 0 -1.36 0M107.08 542.11a0.68 0.68 0 1 0 1.36 0a0.68 0.68 0 1 0 -1.36 0M109.48 541.86a0.68 0.68 0 1 0 1.36 0a0.68 0.68 0 1 0 -1.36 0M111.89 541.61a0.68 0.68 0 1 0 1.36 0a0.68 0.68 0 1 0 -1.36 0M114.30 541.36a0.68 0.68 0 1 0 1.36 0a0.68 0.68 0 1 0 -1.36 0M116.71 541.11a0.68 0.68 0 1 0 1.36 0a0.68 0.68 0 1 0 -1.36 0M119.11 540.86a0.68 0.68 0 1 0 1.36 0a0.68 0.68 0 1 0 -1.36 0M121.52 540.62a0.68 0.68 0 1 0 1.36 0a0.68 0.68 0 1 0 -1.36 0M123.93 540.37a0.68 0.68 0 1 0 1.36 0a0.68 0.68 0 1 0 -1.36 0M126.33 540.12a0.68 0.68 0 1 0 1.36 0a0.68 0.68 0 1 0 -1.36 0M128.74 539.87a0.68 0.68 0 1 0 1.36 0a0.68 0.68 0 1 0 -1.36 0M131.15 539.62a0.68 0.68 0 1 0 1.36 0a0.68 0.68 0 1 0 -1.36 0M133.56 539.37a0.68 0.68 0 1 0 1.36 0a0.68 0.68 0 1 0 -1.36 0M135.96 539.12a0.68 0.68 0 1 0 1.36 0a0.68 0.68 0 1 0 -1.36 0M138.37 538.87a0.68 0.68 0 1 0 1.36 0a0.68 0.68 0 1 0 -1.36 0M140.78 538.62a0.68 0.68 0 1 0 1.36 0a0.68 0.68 0 1 0 -1.36 0M143.18 538.37a0.68 0.68 0 1 0 1.36 0a0.68 0.68 0 1 0 -1.36 0M145.59 538.13a0.68 0.68 0 1 0 1.36 0a0.68 0.68 0 1 0 -1.36 0M148.00 537.88a0.68 0.68 0 1 0 1.36 0a0.68 0.68 0 1 0 -1.36 0M150.41 537.63a0.68 0.68 0 1 0 1.36 0a0.68 0.68 0 1 0 -1.36 0M152.81 537.38a0.68 0.68 0 1 0 1.36 0a0.68 0.68 0 1 0 -1.36 0M155.22 537.13a0.68 0.68 0 1 0 1.36 0a0.68 0.68 0 1 0 -1.36 0M157.63 536.88a0.68 0.68 0 1 0 1.36 0a0.68 0.68 0 1 0 -1.36 0M160.03 536.63a0.68 0.68 0 1 0 1.36 0a0.68 0.68 0 1 0 -1.36 0M162.44 536.38a0.68 0.68 0 1 0 1.36 0a0.68 0.68 0 1 0 -1.36 0M164.85 536.13a0.68 0.68 0 1 0 1.36 0a0.68 0.68 0 1 0 -1.36 0M167.26 535.89a0.68 0.68 0 1 0 1.36 0a0.68 0.68 0 1 0 -1.36 0M169.66 535.64a0.68 0.68 0 1 0 1.36 0a0.68 0.68 0 1 0 -1.36 0M172.07 535.39a0.68 0.68 0 1 0 1.36 0a0.68 0.68 0 1 0 -1.36 0M174.48 535.14a0.68 0.68 0 1 0 1.36 0a0.68 0.68 0 1 0 -1.36 0M176.89 534.89a0.68 0.68 0 1 0 1.36 0a0.68 0.68 0 1 0 -1.36 0M179.29 534.64a0.68 0.68 0 1 0 1.36 0a0.68 0.68 0 1 0 -1.36 0M181.70 534.39a0.68 0.68 0 1 0 1.36 0a0.68 0.68 0 1 0 -1.36 0M184.11 534.14a0.68 0.68 0 1 0 1.36 0a0.68 0.68 0 1 0 -1.36 0M186.51 533.89a0.68 0.68 0 1 0 1.36 0a0.68 0.68 0 1 0 -1.36 0M188.92 533.65a0.68 0.68 0 1 0 1.36 0a0.68 0.68 0 1 0 -1.36 0M191.33 533.40a0.68 0.68 0 1 0 1.36 0a0.68 0.68 0 1 0 -1.36 0M193.74 533.15a0.68 0.68 0 1 0 1.36 0a0.68 0.68 0 1 0 -1.36 0M196.14 532.90a0.68 0.68 0 1 0 1.36 0a0.68 0.68 0 1 0 -1.36 0M198.55 532.65a0.68 0.68 0 1 0 1.36 0a0.68 0.68 0 1 0 -1.36 0M200.96 532.40a0.68 0.68 0 1 0 1.36 0a0.68 0.68 0 1 0 -1.36 0M203.36 532.15a0.68 0.68 0 1 0 1.36 0a0.68 0.68 0 1 0 -1.36 0M205.77 531.90a0.68 0.68 0 1 0 1.36 0a0.68 0.68 0 1 0 -1.36 0M208.18 531.65a0.68 0.68 0 1 0 1.36 0a0.68 0.68 0 1 0 -1.36 0M210.59 531.40a0.68 0.68 0 1 0 1.36 0a0.68 0.68 0 1 0 -1.36 0M212.99 531.16a0.68 0.68 0 1 0 1.36 0a0.68 0.68 0 1 0 -1.36 0M215.40 530.91a0.68 0.68 0 1 0 1.36 0a0.68 0.68 0 1 0 -1.36 0M217.81 530.66a0.68 0.68 0 1 0 1.36 0a0.68 0.68 0 1 0 -1.36 0M220.21 530.41a0.68 0.68 0 1 0 1.36 0a0.68 0.68 0 1 0 -1.36 0M222.62 530.16a0.68 0.68 0 1 0 1.36 0a0.68 0.68 0 1 0 -1.36 0M225.03 529.91a0.68 0.68 0 1 0 1.36 0a0.68 0.68 0 1 0 -1.36 0M227.44 529.66a0.68 0.68 0 1 0 1.36 0a0.68 0.68 0 1 0 -1.36 0M229.84 529.41a0.68 0.68 0 1 0 1.36 0a0.68 0.68 0 1 0 -1.36 0M232.25 529.16a0.68 0.68 0 1 0 1.36 0a0.68 0.68 0 1 0 -1.36 0M234.66 528.92a0.68 0.68 0 1 0 1.36 0a0.68 0.68 0 1 0 -1.36 0M237.06 528.67a0.68 0.68 0 1 0 1.36 0a0.68 0.68 0 1 0 -1.36 0M239.47 528.42a0.68 0.68 0 1 0 1.36 0a0.68 0.68 0 1 0 -1.36 0M241.88 528.17a0.68 0.68 0 1 0 1.36 0a0.68 0.68 0 1 0 -1.36 0M244.29 527.92a0.68 0.68 0 1 0 1.36 0a0.68 0.68 0 1 0 -1.36 0M246.69 527.67a0.68 0.68 0 1 0 1.36 0a0.68 0.68 0 1 0 -1.36 0M249.10 527.42a0.68 0.68 0 1 0 1.36 0a0.68 0.68 0 1 0 -1.36 0M251.51 527.17a0.68 0.68 0 1 0 1.36 0a0.68 0.68 0 1 0 -1.36 0M253.91 526.92a0.68 0.68 0 1 0 1.36 0a0.68 0.68 0 1 0 -1.36 0M256.32 526.68a0.68 0.68 0 1 0 1.36 0a0.68 0.68 0 1 0 -1.36 0M258.73 526.43a0.68 0.68 0 1 0 1.36 0a0.68 0.68 0 1 0 -1.36 0M261.14 526.18a0.68 0.68 0 1 0 1.36 0a0.68 0.68 0 1 0 -1.36 0M263.54 525.93a0.68 0.68 0 1 0 1.36 0a0.68 0.68 0 1 0 -1.36 0M265.95 525.68a0.68 0.68 0 1 0 1.36 0a0.68 0.68 0 1 0 -1.36 0" fill="#00ff00"/>
<path d="M269.92 545.70a0.68 0.68 0 1 0 1.36 0a0.68 0.68 0 1 0 -1.36 0M271.90 544.31a0.68 0.68 0 1 0 1.36 0a0.68 0.68 0 1 0 -1.36 0M273.88 542.92a0.68 0.68 0 1 0 1.36 0a0.68 0.68 0 1 0 -1.36 0M275.86 541.53a0.68 0.68 0 1 0 1.36 0a0.68 0.68 0 1 0 -1.36 0M277.84 540.13a0.68 0.68 0 1 0 1.36 0a0.68 0.68 0 1 0 -1.36 0M279.82 538.74a0.68 0.68 0 1 0 1.36 0a0.68 0.68 0 1 0 -1.36 0M281.80 537.35a0.68 0.68 0 1 0 1.36 0a0.68 0.68 0 1 0 -1.36 0M283.78 535.96a0.68 0.68 0 1 0 1.36 0a0.68 0.68 0 1 0 -1.36 0M285.76 534.57a0.68 0.68 0 1 0 1.36 0a0.68 0.68 0 1 0 -1.36 0M287.74 533.18a0.68 0.68 0 1 0 1.36 0a0.68 0.68 0 1 0 -1.36 0M289.72 531.79a0.68 0.68 0 1 0 1.36 0a0.68 0.68 0 1 0 -1.36 0M291.70 530.40a0.68 0.68 0 1 0 1.36 0a0.68 0.68 0 1 0 -1.36 0M293.68 529.00a0.68 0.68 0 1 0 1.36 0a0.68 0.68 0 1 0 -1.36 0M295.66 527.61a0.68 0.68 0 1 0 1.36 0a0.68 0.68 0 1 0 -1.36 0M297.64 526.22a0.68 0.68 0 1 0 1.36 0a0.68 0.68 0 1 0 -1.36 0M299.62 524.83a0.68 0.68 0 1 0 1.36 0a0.68 0.68 0 1 0 -1.36 0M301.60 523.44a0.68 0.68 0 1 0 1.36 0a0.68 0.68 0 1 0 -1.36 0M303.58 522.05a0.68 0.68 0 1 0 1.36 0a0.68 0.68 0 1 0 -1.36 0M305.56 520.66a0.68 0.68 0 1 0 1.36 0a0.68 0.68 0 1 0 -1.36 0M307.54 519.27a0.68 0.68 0 1 0 1.36 0a0.68 0.68 0 1 0 -1.36 0M309.52 517.87a0.68 0.68 0 1 0 1.36 0a0.68 0.68 0 1 0 -1.36 0M311.50 516.48a0.68 0.68 0 1 0 1.36 0a0.68 0.68 0 1 0 -1.36 0M313.48 515.09a0.68 0.68 0 1 0 1.36 0a0.68 0.68 0 1 0 -1.36 0M315.46 513.70a0.68 0.68 0 1 0 1.36 0a0.68 0.68 0 1 0 -1.36 0M317.44 512.31a0.68 0.68 0 1 0 1.36 0a0.68 0.68 0 1 0 -1.36 0M319.42 510.92a0.68 0.68 0 1 0 1.36 0a0.68 0.68 0 1 0 -1.36 0M321.40 509.53a0.68 0.68 0 1 0 1.36 0a0.68 0.68 0 1 0 -1.36 0M323.38 508.14a0.68 0.68 0 1 0 1.36 0a0.68 0.68 0 1 0 -1.36 0M325.36 506.74a0.68 0.68 0 1 0 1.36 0a0.68 0.68 0 1 0 -1.36 0M327.34 505.35a0.68 0.68 0 1 0 1.36 0a0.68 0.68 0 1 0 -1.36 0M329.32 503.96a0.68 0.68 0 1 0 1.36 0a0.68 0.68 0 1 0 -1.36 0M331.30 502.57a0.68 0.68 0 1 0 1.36 0a0.68 0.68 0 1 0 -1.36 0M333.28 501.18a0.68 0.68 0 1 0 1.36 0a0.68 0.68 0 1 0 -1.36 0M335.26 499.79a0.68 0.68 0 1 0 1.36 0a0.68 0.68 0 1 0 -1.36 0M337.24 498.40a0.68 0.68 0 1 0 1.36 0a0.68 0.68 0 1 0 -1.36 0M339.22 497.01a0.68 0.68 0 1 0 1.36 0a0.68 0.68 0 1 0 -1.36 0M341.20 495.61a0.68 0.68 0 1 0 1.36 0a0.68 0.68 0 1 0 -1.36 0M343.18 494.22a0.68 0.68 0 1 0 1.36 0a0.68 0.68 0 1 0 -1.36 0M345.16 492.83a0.68 0.68 0 1 0 1.36 0a0.68 0.68 0 1 0 -1.36 0M347.14 491.44a0.68 0.68 0 1 0 1.36 0a0.68 0.68 0 1 0 -1.36 0M349.12 490.05a0.68 0.68 0 1 0 1.36 0a0.68 0.68 0 1 0 -1.36 0M351.10 488.66a0.68 0.68 0 1 0 1.36 0a0.68 0.68 0 1 0 -1.36 0M353.08 487.27a0.68 0.68 0 1 0 1.36 0a0.68 0.68 0 1 0 -1.36 0M355.06 485.88a0.68 0.68 0 1 0 1.36 0a0.68 0.68 0 1 0 -1.36 0M357.04 484.48a0.68 0.68 0 1 0 1.36 0a0.68 0.68 0 1 0 -1.36 0M359.02 483.09a0.68 0.68 0 1 0 1.36 0a0.68 0.68 0 1 0 -1.36 0M361.00 481.70a0.68 0.68 0 1 0 1.36 0a0.68 0.68 0 1 0 -1.36 0M362.98 480.31a0.68 0.68 0 1 0 1.36 0a0.68 0.68 0 1 0 -1.36 0M364.96 478.92a0.68 0.68 0 1 0 1.36 0a0.68 0.68 0 1 0 -1.36 0M366.94 477.53a0.68 0.68 0 1 0 1.36 0a0.68 0.68 0 1 0 -1.36 0M368.92 476.14a0.68 0.68 0 1 0 1.36 0a0.68 0.68 0 1 0 -1.36 0M370.90 474.75a0.68 0.68 0 1 0 1.36 0a0.68 0.68 0 1 0 -1.36 0M372.88 473.35a0.68 0.68 0 1 0 1.36 0a0.68 0.68 0 1 0 -1.36 0M374.86 471.96a0.68 0.68 0 1 0 1.36 0a0.68 0.68 0 1 0 -1.36 0M376.85 470.57a0.68 0.68 0 1 0 1.36 0a0.68 0.68 0 1 0 -1.36 0M378.83 469.18a0.68 0.68 0 1 0 1.36 0a0.68 0.68 0 1 0 -1.36 0M380.81 467.79a0.68 0.68 0 1 0 1.36 0a0.68 0.68 0 1 0 -1.36 0M382.79 466.40a0.68 0.68 0 1 0 1.36 0a0.68 0.68 0 1 0 -1.36 0M384.77 465.01a0.68 0.68 0 1 0 1.36 0a0.68 0.68 0 1 0 -1.36 0M386.75 463.62a0.68 0.68 0 1 0 1.36 0a0.68 0.68 0 1 0 -1.36 0M388.73 462.22a0.68 0.68 0 1 0 1.36 0a0.68 0.68 0 1 0 -1.36 0M390.71 460.83a0.68 0.68 0 1 0 1.36 0a0.68 0.68 0 1 0 -1.36 0M392.69 459.44a0.68 0.68 0 1 0 1.36 0a0.68 0.68 0 1 0 -1.36 0M394.67 458.05a0.68 0.68 0 1 0 1.36 0a0.68 0.68 0 1 0 -1.36 0M396.65 456.66a0.68 0.68 0 1 0 1.36 0a0.68 0.68 0 1 0 -1.36 0M398.63 455.27a0.68 0.68 0 1 0 1.36 0a0.68 0.68 0 1 0 -1.36 0M400.61 453.88a0.68 0.68 0 1 0 1.36 0a0.68 0.68 0 1 0 -1.36 0M402.59 452.49a0.68 0.68 0 1 0 1.36 0a0.68 0.68 0 1 0 -1.36 0M404.57 451.09a0.68 0.68 0 1 0 1.36 0a0.68 0.68 0 1 0 -1.36 0M406.55 449.70a0.68 0.68 0 1 0 1.36 0a0.68 0.68 0 1 0 -1.36 0M408.53 448.31a0.68 0.68 0 1 0 1.36 0a0.68 0.68 0 1 0 -1.36 0M410.51 446.92a0.68 0.68 0 1 0 1.36 0a0.68 0.68 0 1 0 -1.36 0M412.49 445.53a0.68 0.68 0 1 0 1.36 0a0.68 0.68 0 1 0 -1.36 0M414.47 444.14a0.68 0.68 0 1 0 1.36 0a0.68 0.68 0 1 0 -1.36 0M416.45 442.75a0.68 0.68 0 1 0 1.36 0a0.68 0.68 0 1 0 -1.36 0M418.43 441.35a0.68 0.68 0 1 0 1.36 0a0.68 0.68 0 1 0 -1.36 0M420.41 439.96a0.68 0.68 0 1 0 1.36 0a0.68 0.68 0 1 0 -1.36 0M422.39 438.57a0.68 0.68 0 1 0 1.36 0a0.68 0.68 0 1 0 -1.36 0M424.37 437.18a0.68 0.68 0 1 0 1.36 0a0.68 0.68 0 1 0 -1.36 0M426.35 435.79a0.68 0.68 0 1 0 1.36 0a0.68 0.68 0 1 0 -1.36 0M428.33 434.40a0.68 0.68 0 1 0 1.36 0a0.68 0.68 0 1 0 -1.36 0M430.31 433.01a0.68 0.68 0 1 0 1.36 0a0.68 0.68 0 1 0 -1.36 0M432.29 431.62a0.68 0.68 0 1 0 1.36 0a0.68 0.68 0 1 0 -1.36 0M434.27 430.22a0.68 0.68 0 1 0 1.36 0a0.68 0.68 0 1 0 -1.36 0M436.25 428.83a0.68 0.68 0 1 0 1.36 0a0.68 0.68 0 1 0 -1.36 0M438.23 427.44a0.68 0.68 0 1 0 1.36 0a0.68 0.68 0 1 0 -1.36 0M440.21 426.05a0.68 0.68 0 1 0 1.36 0a0.68 0.68 0 1 0 -1.36 0M442.19 424.66a0.68 0.68 0 1 0 1.36 0a0.68 0.68 0 1 0 -1.36 0M444.17 423.27a0.68 0.68 0 1 0 1.36 0a0.68 0.68 0 1 0 -1.36 0M446.15 421.88a0.68 0.68 0 1 0 1.36 0a0.68 0.68 0 1 0 -1.36 0M448.13 420.49a0.68 0.68 0 1 0 1.36 0a0.68 0.68 0 1 0 -1.36 0" fill="#8a6355"/>
<path d="M270.32 545.70a0.68 0.68 0 1 0 1.36 0a0.68 0.68 0 1 0 -1.36 0M272.57 544.80a0.68 0.68 0 1 0 1.36 0a0.68 0.68 0 1 0 -1.36 0M274.82 543.91a0.68 0.68 0 1 0 1.36 0a0.68 0.68 0 1 0 -1.36 0M277.06 543.01a0.68 0.68 0 1 0 1.36 0a0.68 0.68 0 1 0 -1.36 0M279.31 542.12a0.68 0.68 0 1 0 1.36 0a0.68 0.68 0 1 0 -1.36 0M281.56 541.22a0.68 0.68 0 1 0 1.36 0a0.68 0.68 0 1 0 -1.36 0M283.81 540.33a0.68 0.68 0 1 0 1.36 0a0.68 0.68 0 1 0 -1.36 0M286.06 539.43a0.68 0.68 0 1 0 1.36 0a0.68 0.68 0 1 0 -1.36 0M288.31 538.54a0.68 0.68 0 1 0 1.36 0a0.68 0.68 0 1 0 -1.36 0M290.55 537.64a0.68 0.68 0 1 0 1.36 0a0.68 0.68 0 1 0 -1.36 0M292.80 536.74a0.68 0.68 0 1 0 1.36 0a0.68 0.68 0 1 0 -1.36 0M295.05 535.85a0.68 0.68 0 1 0 1.36 0a0.68 0.68 0 1 0 -1.36 0M297.30 534.95a0.68 0.68 0 1 0 1.36 0a0.68 0.68 0 1 0 -1.36 0M299.55 534.06a0.68 0.68 0 1 0 1.36 0a0.68 0.68 0 1 0 -1.36 0M301.79 533.16a0.68 0.68 0 1 0 1.36 0a0.68 0.68 0 1 0 -1.36 0M304.04 532.27a0.68 0.68 0 1 0 1.36 0a0.68 0.68 0 1 0 -1.36 0M306.29 531.37a0.68 0.68 0 1 0 1.36 0a0.68 0.68 0 1 0 -1.36 0M308.54 530.48a0.68 0.68 0 1 0 1.36 0a0.68 0.68 0 1 0 -1.36 0M310.79 529.58a0.68 0.68 0 1 0 1.36 0a0.68 0.68 0 1 0 -1.36 0M313.04 528.69a0.68 0.68 0 1 0 1.36 0a0.68 0.68 0 1 0 -1.36 0M315.28 527.79a0.68 0.68 0 1 0 1.36 0a0.68 0.68 0 1 0 -1.36 0M317.53 526.89a0.68 0.68 0 1 0 1.36 0a0.68 0.68 0 1 0 -1.36 0M319.78 526.00a0.68 0.68 0 1 0 1.36 0a0.68 0.68 0 1 0 -1.36 0M322.03 525.10a0.68 0.68 0 1 0 1.36 0a0.68 0.68 0 1 0 -1.36 0M324.28 524.21a0.68 0.68 0 1 0 1.36 0a0.68 0.68 0 1 0 -1.36 0M326.53 523.31a0.68 0.68 0 1 0 1.36 0a0.68 0.68 0 1 0 -1.36 0M328.77 522.42a0.68 0.68 0 1 0 1.36 0a0.68 0.68 0 1 0 -1.36 0M331.02 521.52a0.68 0.68 0 1 0 1.36 0a0.68 0.68 0 1 0 -1.36 0M333.27 520.63a0.68 0.68 0 1 0 1.36 0a0.68 0.68 0 1 0 -1.36 0M335.52 519.73a0.68 0.68 0 1 0 1.36 0a0.68 0.68 0 1 0 -1.36 0M337.77 518.83a0.68 0.68 0 1 0 1.36 0a0.68 0.68 0 1 0 -1.36 0M340.01 517.94a0.68 0.68 0 1 0 1.36 0a0.68 0.68 0 1 0 -1.36 0M342.26 517.04a0.68 0.68 0 1 0 1.36 0a0.68 0.68 0 1 0 -1.36 0M344.51 516.15a0.68 0.68 0 1 0 1.36 0a0.68 0.68 0 1 0 -1.36 0M346.76 515.25a0.68 0.68 0 1 0 1.36 0a0.68 0.68 0 1 0 -1.36 0M349.01 514.36a0.68 0.68 0 1 0 1.36 0a0.68 0.68 0 1 0 -1.36 0M351.26 513.46a0.68 0.68 0 1 0 1.36 0a0.68 0.68 0 1 0 -1.36 0M353.50 512.57a0.68 0.68 0 1 0 1.36 0a0.68 0.68 0 1 0 -1.36 0M355.75 511.67a0.68 0.68 0 1 0 1.36 0a0.68 0.68 0 1 0 -1.36 0M358.00 510.77a0.68 0.68 0 1 0 1.36 0a0.68 0.68 0 1 0 -1.36 0M360.25 509.88a0.68 0.68 0 1 0 1.36 0a0.68 0.68 0 1 0 -1.36 0M362.50 508.98a0.68 0.68 0 1 0 1.36 0a0.68 0.68 0 1 0 -1.36 0M364.74 508.09a0.68 0.68 0 1 0 1.36 0a0.68 0.68 0 1 0 -1.36 0M366.99 507.19a0.68 0.68 0 1 0 1.36 0a0.68 0.68 0 1 0 -1.36 0M369.24 506.30a0.68 0.68 0 1 0 1.36 0a0.68 0.68 0 1 0 -1.36 0M371.49 505.40a0.68 0.68 0 1 0 1.36 0a0.68 0.68 0 1 0 -1.36 0M373.74 504.51a0.68 0.68 0 1 0 1.36 0a0.68 0.68 0 1 0 -1.36 0M375.99 503.61a0.68 0.68 0 1 0 1.36 0a0.68 0.68 0 1 0 -1.36 0M378.23 502.72a0.68 0.68 0 1 0 1.36 0a0.68 0.68 0 1 0 -1.36 0M380.48 501.82a0.68 0.68 0 1 0 1.36 0a0.68 0.68 0 1 0 -1.36 0M382.73 500.92a0.68 0.68 0 1 0 1.36 0a0.68 0.68 0 1 0 -1.36 0M384.98 500.03a0.68 0.68 0 1 0 1.36 0a0.68 0.68 0 1 0 -1.36 0M387.23 499.13a0.68 0.68 0 1 0 1.36 0a0.68 0.68 0 1 0 -1.36 0M389.48 498.24a0.68 0.68 0 1 0 1.36 0a0.68 0.68 0 1 0 -1.36 0M391.72 497.34a0.68 0.68 0 1 0 1.36 0a0.68 0.68 0 1 0 -1.36 0M393.97 496.45a0.68 0.68 0 1 0 1.36 0a0.68 0.68 0 1 0 -1.36 0M396.22 495.55a0.68 0.68 0 1 0 1.36 0a0.68 0.68 0 1 0 -1.36 0M398.47 494.66a0.68 0.68 0 1 0 1.36 0a0.68 0.68 0 1 0 -1.36 0M400.72 493.76a0.68 0.68 0 1 0 1.36 0a0.68 0.68 0 1 0 -1.36 0M402.96 492.86a0.68 0.68 0 1 0 1.36 0a0.68 0.68 0 1 0 -1.36 0M405.21 491.97a0.68 0.68 0 1 0 1.36 0a0.68 0.68 0 1 0 -1.36 0M407.46 491.07a0.68 0.68 0 1 0 1.36 0a0.68 0.68 0 1 0 -1.36 0M409.71 490.18a0.68 0.68 0 1 0 1.36 0a0.68 0.68 0 1 0 -1.36 0M411.96 489.28a0.68 0.68 0 1 0 1.36 0a0.68 0.68 0 1 0 -1.36 0M414.21 488.39a0.68 0.68 0 1 0 1.36 0a0.68 0.68 0 1 0 -1.36 0M416.45 487.49a0.68 0.68 0 1 0 1.36 0a0.68 0.68 0 1 0 -1.36 0M418.70 486.60a0.68 0.68 0 1 0 1.36 0a0.68 0.68 0 1 0 -1.36 0M420.95 485.70a0.68 0.68 0 1 0 1.36 0a0.68 0.68 0 1 0 -1.36 0M423.20 484.80a0.68 0.68 0 1 0 1.36 0a0.68 0.68 0 1 0 -1.36 0M425.45 483.91a0.68 0.68 0 1 0 1.36 0a0.68 0.68 0 1 0 -1.36 0M427.69 483.01a0.68 0.68 0 1 0 1.36 0a0.68 0.68 0 1 0 -1.36 0M429.94 482.12a0.68 0.68 0 1 0 1.36 0a0.68 0.68 0 1 0 -1.36 0M432.19 481.22a0.68 0.68 0 1 0 1.36 0a0.68 0.68 0 1 0 -1.36 0M434.44 480.33a0.68 0.68 0 1 0 1.36 0a0.68 0.68 0 1 0 -1.36 0M436.69 479.43a0.68 0.68 0 1 0 1.36 0a0.68 0.68 0 1 0 -1.36 0M438.94 478.54a0.68 0.68 0 1 0 1.36 0a0.68 0.68 0 1 0 -1.36 0M441.18 477.64a0.68 0.68 0 1 0 1.36 0a0.68 0.68 0 1 0 -1.36 0M443.43 476.75a0.68 0.68 0 1 0 1.36 0a0.68 0.68 0 1 0 -1.36 0M445.68 475.85a0.68 0.68 0 1 0 1.36 0a0.68 0.68 0 1 0 -1.36 0M447.93 474.95a0.68 0.68 0 1 0 1.36 0a0.68 0.68 0 1 0 -1.36 0" fill="#00ff00"/>
<polygon points="124.00,339.15 126.15,342.60 124.00,346.05 121.85,342.60" fill="none" stroke="#ff00ff" stroke-width="0.9"/>
<polygon points="127.90,334.55 130.05,338.00 127.90,341.45 125.75,338.00" fill="none" stroke="#ff00ff" stroke-width="0.9"/>
<polygon points="131.60,332.65 133.75,336.10 131.60,339.55 129.45,336.10" fill="none" stroke="#ff00ff" stroke-width="0.9"/>
<polygon points="137.20,325.95 139.35,329.40 137.20,332.85 135.05,329.40" fill="none" stroke="#ff00ff" stroke-width="0.9"/>
<polygon points="142.30,319.05 144.45,322.50 142.30,325.95 140.15,322.50" fill="none" stroke="#ff00ff" stroke-width="0.9"/>
<polygon points="148.80,314.55 150.95,318.00 148.80,321.45 146.65,318.00" fill="none" stroke="#ff00ff" stroke-width="0.9"/>
<polygon points="131.70,343.15 133.70,343.15 133.70,344.80 135.35,344.80 135.35,346.80 133.70,346.80 133.70,348.45 131.70,348.45 131.70,346.80 130.05,346.80 130.05,344.80 131.70,344.80" fill="none" stroke="#8a6355" stroke-width="0.8"/>
<polygon points="137.50,338.35 139.50,338.35 139.50,340.00 141.15,340.00 141.15,342.00 139.50,342.00 139.50,343.65 137.50,343.65 137.50,342.00 135.85,342.00 135.85,340.00 137.50,340.00" fill="none" stroke="#8a6355" stroke-width="0.8"/>
<polygon points="145.00,332.65 147.00,332.65 147.00,334.30 148.65,334.30 148.65,336.30 147.00,336.30 147.00,337.95 145.00,337.95 145.00,336.30 143.35,336.30 143.35,334.30 145.00,334.30" fill="none" stroke="#8a6355" stroke-width="0.8"/>
<polygon points="153.00,327.05 155.00,327.05 155.00,328.70 156.65,328.70 156.65,330.70 155.00,330.70 155.00,332.35 153.00,332.35 153.00,330.70 151.35,330.70 151.35,328.70 153.00,328.70" fill="none" stroke="#8a6355" stroke-width="0.8"/>
<polygon points="161.40,319.35 163.40,319.35 163.40,321.00 165.05,321.00 165.05,323.00 163.40,323.00 163.40,324.65 161.40,324.65 161.40,323.00 159.75,323.00 159.75,321.00 161.40,321.00" fill="none" stroke="#8a6355" stroke-width="0.8"/>
<polygon points="170.50,312.95 172.50,312.95 172.50,314.60 174.15,314.60 174.15,316.60 172.50,316.60 172.50,318.25 170.50,318.25 170.50,316.60 168.85,316.60 168.85,314.60 170.50,314.60" fill="none" stroke="#8a6355" stroke-width="0.8"/>
<polygon points="175.90,309.70 179.30,303.30 172.50,303.30" fill="#00ffff"/>
<polygon points="187.70,303.50 191.10,297.10 184.30,297.10" fill="#00ffff"/>
<polygon points="196.80,297.20 200.20,290.80 193.40,290.80" fill="#00ffff"/>
<polygon points="205.10,288.80 208.50,282.40 201.70,282.40" fill="#00ffff"/>
<circle cx="138.00" cy="324.60" r="2.8" fill="#ff0000"/>
<circle cx="168.70" cy="309.20" r="2.8" fill="#ff0000"/>
<circle cx="184.70" cy="298.80" r="2.8" fill="#ff0000"/>
<circle cx="198.90" cy="292.50" r="2.8" fill="#ff0000"/>
<circle cx="209.10" cy="287.50" r="2.8" fill="#ff0000"/>
<circle cx="215.60" cy="282.70" r="2.8" fill="#ff0000"/>
<polygon points="141.30,335.70 142.61,339.20 146.34,339.36 143.42,341.69 144.42,345.29 141.30,343.23 138.18,345.29 139.18,341.69 136.26,339.36 139.99,339.20" fill="#000"/>
<circle cx="140.90" cy="344.70" r="3.6" fill="none" stroke="#ff0000" stroke-width="1"/>
<polygon points="140.90,340.90 141.86,343.47 144.61,343.59 142.46,345.31 143.19,347.96 140.90,346.44 138.61,347.96 139.34,345.31 137.19,343.59 139.94,343.47" fill="#000"/>
<polygon points="112.85,353.50 115.25,353.50 115.25,355.45 117.20,355.45 117.20,357.85 115.25,357.85 115.25,359.80 112.85,359.80 112.85,357.85 110.90,357.85 110.90,355.45 112.85,355.45" fill="#000"/>
<polygon points="219.30,280.20 221.90,284.00 219.30,287.80 216.70,284.00" fill="#000"/>
<polygon points="190.00,297.40 193.20,303.40 186.80,303.40" fill="none" stroke="#000" stroke-width="0.9"/>
<polygon points="263.00,260.10 264.01,263.22 267.28,263.21 264.63,265.13 265.65,268.24 263.00,266.31 260.35,268.24 261.37,265.13 258.72,263.21 261.99,263.22" fill="none" stroke="#000" stroke-width="1.0"/>
<polygon points="124.00,510.15 126.15,513.60 124.00,517.05 121.85,513.60" fill="none" stroke="#ff00ff" stroke-width="0.9"/>
<polygon points="127.90,504.45 130.05,507.90 127.90,511.35 125.75,507.90" fill="none" stroke="#ff00ff" stroke-width="0.9"/>
<polygon points="131.60,502.05 133.75,505.50 131.60,508.95 129.45,505.50" fill="none" stroke="#ff00ff" stroke-width="0.9"/>
<polygon points="137.20,496.75 139.35,500.20 137.20,503.65 135.05,500.20" fill="none" stroke="#ff00ff" stroke-width="0.9"/>
<polygon points="142.80,489.25 144.95,492.70 142.80,496.15 140.65,492.70" fill="none" stroke="#ff00ff" stroke-width="0.9"/>
<polygon points="148.80,484.05 150.95,487.50 148.80,490.95 146.65,487.50" fill="none" stroke="#ff00ff" stroke-width="0.9"/>
<polygon points="131.50,515.75 133.50,515.75 133.50,517.40 135.15,517.40 135.15,519.40 133.50,519.40 133.50,521.05 131.50,521.05 131.50,519.40 129.85,519.40 129.85,517.40 131.50,517.40" fill="none" stroke="#8a6355" stroke-width="0.8"/>
<polygon points="137.00,510.85 139.00,510.85 139.00,512.50 140.65,512.50 140.65,514.50 139.00,514.50 139.00,516.15 137.00,516.15 137.00,514.50 135.35,514.50 135.35,512.50 137.00,512.50" fill="none" stroke="#8a6355" stroke-width="0.8"/>
<polygon points="145.10,504.85 147.10,504.85 147.10,506.50 148.75,506.50 148.75,508.50 147.10,508.50 147.10,510.15 145.10,510.15 145.10,508.50 143.45,508.50 143.45,506.50 145.10,506.50" fill="none" stroke="#8a6355" stroke-width="0.8"/>
<polygon points="152.80,497.95 154.80,497.95 154.80,499.60 156.45,499.60 156.45,501.60 154.80,501.60 154.80,503.25 152.80,503.25 152.80,501.60 151.15,501.60 151.15,499.60 152.80,499.60" fill="none" stroke="#8a6355" stroke-width="0.8"/>
<polygon points="161.40,490.25 163.40,490.25 163.40,491.90 165.05,491.90 165.05,493.90 163.40,493.90 163.40,495.55 161.40,495.55 161.40,493.90 159.75,493.90 159.75,491.90 161.40,491.90" fill="none" stroke="#8a6355" stroke-width="0.8"/>
<polygon points="170.60,482.55 172.60,482.55 172.60,484.20 174.25,484.20 174.25,486.20 172.60,486.20 172.60,487.85 170.60,487.85 170.60,486.20 168.95,486.20 168.95,484.20 170.60,484.20" fill="none" stroke="#8a6355" stroke-width="0.8"/>
<polygon points="175.90,480.00 179.30,473.60 172.50,473.60" fill="#00ffff"/>
<polygon points="187.60,468.30 191.00,461.90 184.20,461.90" fill="#00ffff"/>
<polygon points="197.10,459.10 200.50,452.70 193.70,452.70" fill="#00ffff"/>
<polygon points="205.10,454.30 208.50,447.90 201.70,447.90" fill="#00ffff"/>
<circle cx="138.00" cy="491.90" r="2.8" fill="#ff0000"/>
<circle cx="168.70" cy="481.20" r="2.8" fill="#ff0000"/>
<circle cx="184.70" cy="470.70" r="2.8" fill="#ff0000"/>
<circle cx="198.90" cy="464.30" r="2.8" fill="#ff0000"/>
<circle cx="209.10" cy="458.30" r="2.8" fill="#ff0000"/>
<circle cx="215.60" cy="451.10" r="2.8" fill="#ff0000"/>
<polygon points="141.90,507.90 143.21,511.40 146.94,511.56 144.02,513.89 145.02,517.49 141.90,515.43 138.78,517.49 139.78,513.89 136.86,511.56 140.59,511.40" fill="#000"/>
<circle cx="141.00" cy="523.70" r="3.6" fill="none" stroke="#ff0000" stroke-width="1"/>
<polygon points="141.00,519.90 141.96,522.47 144.71,522.59 142.56,524.31 143.29,526.96 141.00,525.44 138.71,526.96 139.44,524.31 137.29,522.59 140.04,522.47" fill="#000"/>
<polygon points="112.70,525.65 115.10,525.65 115.10,527.60 117.05,527.60 117.05,530.00 115.10,530.00 115.10,531.95 112.70,531.95 112.70,530.00 110.75,530.00 110.75,527.60 112.70,527.60" fill="#000"/>
<polygon points="219.20,449.00 221.80,452.80 219.20,456.60 216.60,452.80" fill="#000"/>
<polygon points="190.00,457.50 192.80,463.10 187.20,463.10" fill="none" stroke="#000" stroke-width="0.9"/>
<polygon points="262.90,432.40 263.91,435.52 267.18,435.51 264.53,437.43 265.55,440.54 262.90,438.61 260.25,440.54 261.27,437.43 258.62,435.51 261.89,435.52" fill="none" stroke="#000" stroke-width="1.0"/>
<polygon points="306.00,513.95 308.15,517.40 306.00,520.85 303.85,517.40" fill="none" stroke="#ff00ff" stroke-width="0.9"/>
<polygon points="309.70,506.85 311.85,510.30 309.70,513.75 307.55,510.30" fill="none" stroke="#ff00ff" stroke-width="0.9"/>
<polygon points="313.60,505.35 315.75,508.80 313.60,512.25 311.45,508.80" fill="none" stroke="#ff00ff" stroke-width="0.9"/>
<polygon points="319.00,500.05 321.15,503.50 319.00,506.95 316.85,503.50" fill="none" stroke="#ff00ff" stroke-width="0.9"/>
<polygon points="325.00,494.15 327.15,497.60 325.00,501.05 322.85,497.60" fill="none" stroke="#ff00ff" stroke-width="0.9"/>
<polygon points="330.70,489.25 332.85,492.70 330.70,496.15 328.55,492.70" fill="none" stroke="#ff00ff" stroke-width="0.9"/>
<polygon points="313.60,511.65 315.60,511.65 315.60,513.30 317.25,513.30 317.25,515.30 315.60,515.30 315.60,516.95 313.60,516.95 313.60,515.30 311.95,515.30 311.95,513.30 313.60,513.30" fill="none" stroke="#8a6355" stroke-width="0.8"/>
<polygon points="319.60,507.35 321.60,507.35 321.60,509.00 323.25,509.00 323.25,511.00 321.60,511.00 321.60,512.65 319.60,512.65 319.60,511.00 317.95,511.00 317.95,509.00 319.60,509.00" fill="none" stroke="#8a6355" stroke-width="0.8"/>
<polygon points="328.30,502.55 330.30,502.55 330.30,504.20 331.95,504.20 331.95,506.20 330.30,506.20 330.30,507.85 328.30,507.85 328.30,506.20 326.65,506.20 326.65,504.20 328.30,504.20" fill="none" stroke="#8a6355" stroke-width="0.8"/>
<polygon points="334.80,498.25 336.80,498.25 336.80,499.90 338.45,499.90 338.45,501.90 336.80,501.90 336.80,503.55 334.80,503.55 334.80,501.90 333.15,501.90 333.15,499.90 334.80,499.90" fill="none" stroke="#8a6355" stroke-width="0.8"/>
<polygon points="342.80,491.85 344.80,491.85 344.80,493.50 346.45,493.50 346.45,495.50 344.80,495.50 344.80,497.15 342.80,497.15 342.80,495.50 341.15,495.50 341.15,493.50 342.80,493.50" fill="none" stroke="#8a6355" stroke-width="0.8"/>
<polygon points="353.10,485.35 355.10,485.35 355.10,487.00 356.75,487.00 356.75,489.00 355.10,489.00 355.10,490.65 353.10,490.65 353.10,489.00 351.45,489.00 351.45,487.00 353.10,487.00" fill="none" stroke="#8a6355" stroke-width="0.8"/>
<polygon points="358.50,482.70 361.90,476.30 355.10,476.30" fill="#00ffff"/>
<polygon points="369.80,475.80 373.20,469.40 366.40,469.40" fill="#00ffff"/>
<polygon points="379.30,468.10 382.70,461.70 375.90,461.70" fill="#00ffff"/>
<polygon points="387.30,462.10 390.70,455.70 383.90,455.70" fill="#00ffff"/>
<circle cx="320.20" cy="496.00" r="2.8" fill="#ff0000"/>
<circle cx="350.90" cy="481.00" r="2.8" fill="#ff0000"/>
<circle cx="367.50" cy="468.60" r="2.8" fill="#ff0000"/>
<circle cx="381.60" cy="461.80" r="2.8" fill="#ff0000"/>
<circle cx="391.50" cy="456.90" r="2.8" fill="#ff0000"/>
<circle cx="398.10" cy="449.70" r="2.8" fill="#ff0000"/>
<polygon points="323.80,499.30 325.11,502.80 328.84,502.96 325.92,505.29 326.92,508.89 323.80,506.83 320.68,508.89 321.68,505.29 318.76,502.96 322.49,502.80" fill="#000"/>
<circle cx="323.30" cy="505.70" r="3.6" fill="none" stroke="#ff0000" stroke-width="1"/>
<polygon points="323.30,501.90 324.26,504.47 327.01,504.59 324.86,506.31 325.59,508.96 323.30,507.44 321.01,508.96 321.74,506.31 319.59,504.59 322.34,504.47" fill="#000"/>
<polygon points="295.10,518.75 297.50,518.75 297.50,520.70 299.45,520.70 299.45,523.10 297.50,523.10 297.50,525.05 295.10,525.05 295.10,523.10 293.15,523.10 293.15,520.70 295.10,520.70" fill="#000"/>
<polygon points="401.60,447.70 404.20,451.50 401.60,455.30 399.00,451.50" fill="#000"/>
<polygon points="372.60,464.70 375.40,470.30 369.80,470.30" fill="none" stroke="#000" stroke-width="0.9"/>
<polygon points="445.60,408.40 446.61,411.52 449.88,411.51 447.23,413.43 448.25,416.54 445.60,414.61 442.95,416.54 443.97,413.43 441.32,411.51 444.59,411.52" fill="none" stroke="#000" stroke-width="1.0"/>
<rect x="85.5" y="209.5" width="365.0" height="352.29999999999995" fill="none" stroke="#000" stroke-width="1"/>
<line x1="85.50" y1="386.30" x2="450.50" y2="386.30" stroke="#000" stroke-width="1" />
<line x1="267.50" y1="209.50" x2="267.50" y2="561.80" stroke="#000" stroke-width="1" />
<line x1="85.50" y1="382.00" x2="93.70" y2="382.00" stroke="#000" stroke-width="1" />
<line x1="85.50" y1="328.50" x2="89.90" y2="328.50" stroke="#000" stroke-width="1" />
<line x1="85.50" y1="274.50" x2="93.70" y2="274.50" stroke="#000" stroke-width="1" />
<line x1="85.50" y1="220.50" x2="89.90" y2="220.50" stroke="#000" stroke-width="1" />
<line x1="85.50" y1="557.50" x2="91.70" y2="557.50" stroke="#000" stroke-width="1" />
<line x1="85.50" y1="504.50" x2="88.70" y2="504.50" stroke="#000" stroke-width="1" />
<line x1="85.50" y1="450.50" x2="91.70" y2="450.50" stroke="#000" stroke-width="1" />
<line x1="85.50" y1="397.50" x2="88.70" y2="397.50" stroke="#000" stroke-width="1" />
<line x1="267.50" y1="382.00" x2="273.30" y2="382.00" stroke="#000" stroke-width="0.8" />
<line x1="267.50" y1="328.50" x2="270.50" y2="328.50" stroke="#000" stroke-width="0.8" />
<line x1="267.50" y1="274.50" x2="273.30" y2="274.50" stroke="#000" stroke-width="0.8" />
<line x1="267.50" y1="220.50" x2="270.50" y2="220.50" stroke="#000" stroke-width="0.8" />
<line x1="267.50" y1="557.50" x2="271.50" y2="557.50" stroke="#000" stroke-width="0.8" />
<line x1="267.50" y1="504.50" x2="269.70" y2="504.50" stroke="#000" stroke-width="0.8" />
<line x1="267.50" y1="450.50" x2="271.50" y2="450.50" stroke="#000" stroke-width="0.8" />
<line x1="267.50" y1="397.50" x2="269.70" y2="397.50" stroke="#000" stroke-width="0.8" />
<line x1="88.50" y1="386.30" x2="88.50" y2="381.80" stroke="#000" stroke-width="1" />
<line x1="126.00" y1="386.30" x2="126.00" y2="384.10" stroke="#000" stroke-width="1" />
<line x1="163.50" y1="386.30" x2="163.50" y2="381.80" stroke="#000" stroke-width="1" />
<line x1="201.00" y1="386.30" x2="201.00" y2="384.10" stroke="#000" stroke-width="1" />
<line x1="238.50" y1="386.30" x2="238.50" y2="381.80" stroke="#000" stroke-width="1" />
<line x1="270.60" y1="386.30" x2="270.60" y2="381.80" stroke="#000" stroke-width="1" />
<line x1="308.10" y1="386.30" x2="308.10" y2="384.10" stroke="#000" stroke-width="1" />
<line x1="345.60" y1="386.30" x2="345.60" y2="381.80" stroke="#000" stroke-width="1" />
<line x1="383.10" y1="386.30" x2="383.10" y2="384.10" stroke="#000" stroke-width="1" />
<line x1="420.60" y1="386.30" x2="420.60" y2="381.80" stroke="#000" stroke-width="1" />
<line x1="88.50" y1="561.80" x2="88.50" y2="557.30" stroke="#000" stroke-width="1" />
<line x1="126.00" y1="561.80" x2="126.00" y2="559.60" stroke="#000" stroke-width="1" />
<line x1="163.50" y1="561.80" x2="163.50" y2="557.30" stroke="#000" stroke-width="1" />
<line x1="201.00" y1="561.80" x2="201.00" y2="559.60" stroke="#000" stroke-width="1" />
<line x1="238.50" y1="561.80" x2="238.50" y2="557.30" stroke="#000" stroke-width="1" />
<line x1="270.60" y1="561.80" x2="270.60" y2="554.30" stroke="#000" stroke-width="1" />
<line x1="308.10" y1="561.80" x2="308.10" y2="558.10" stroke="#000" stroke-width="1" />
<line x1="345.60" y1="561.80" x2="345.60" y2="554.30" stroke="#000" stroke-width="1" />
<line x1="383.10" y1="561.80" x2="383.10" y2="558.10" stroke="#000" stroke-width="1" />
<line x1="420.60" y1="561.80" x2="420.60" y2="554.30" stroke="#000" stroke-width="1" />
<defs><filter id="nf" x="0" y="0" width="498" height="645" filterUnits="userSpaceOnUse"><feOffset dx="0" dy="0"/></filter></defs><g filter="url(#nf)">
<text x="74.60" y="278.70" font-size="12" font-weight="normal" text-anchor="end" >5</text>
<text x="74.60" y="386.80" font-size="12" font-weight="normal" text-anchor="end" >0</text>
<text x="77.70" y="456.10" font-size="12" font-weight="normal" text-anchor="end" >5</text>
<text x="77.70" y="563.10" font-size="12" font-weight="normal" text-anchor="end" >0</text>
<text x="88.50" y="579.70" font-size="12" font-weight="normal" text-anchor="middle" >0</text>
<text x="163.50" y="579.70" font-size="12" font-weight="normal" text-anchor="middle" >5</text>
<text x="238.50" y="579.70" font-size="12" font-weight="normal" text-anchor="middle" >10</text>
<g transform="translate(170.10,589.4) scale(0.915,1)"><text x="0" y="0" font-size="14" font-weight="bold">(dN/d<tspan font-weight="normal">η</tspan>)</text></g>
<g transform="translate(214.70,584.7) scale(0.9,1)"><text x="0" y="0" font-size="10.2" font-weight="bold">1/3</text></g>
<text x="270.60" y="579.70" font-size="12" font-weight="normal" text-anchor="middle" >0</text>
<text x="345.60" y="579.70" font-size="12" font-weight="normal" text-anchor="middle" >5</text>
<text x="420.60" y="579.70" font-size="12" font-weight="normal" text-anchor="middle" >10</text>
<g transform="translate(352.20,589.4) scale(0.915,1)"><text x="0" y="0" font-size="14" font-weight="bold">(dN/d<tspan font-weight="normal">η</tspan>)</text></g>
<g transform="translate(396.80,584.7) scale(0.9,1)"><text x="0" y="0" font-size="10.2" font-weight="bold">1/3</text></g>
<text x="117.90" y="229.90" font-size="14" font-weight="bold" text-anchor="start" >a)</text>
<text x="143.40" y="229.90" font-size="14" font-weight="bold" text-anchor="start" >R</text>
<text x="154.30" y="237.30" font-size="9.2" font-weight="bold" text-anchor="start" >side</text>
<text x="118.60" y="406.40" font-size="14" font-weight="bold" text-anchor="start" >b)</text>
<text x="144.40" y="406.40" font-size="14" font-weight="bold" text-anchor="start" >R</text>
<text x="155.00" y="413.80" font-size="9.8" font-weight="bold" text-anchor="start" >out</text>
<text x="301.20" y="406.40" font-size="14" font-weight="bold" text-anchor="start" >c)</text>
<text x="327.00" y="406.40" font-size="14" font-weight="bold" text-anchor="start" >R</text>
<text x="338.10" y="413.80" font-size="9.7" font-weight="bold" text-anchor="start" >long</text>
<g transform="translate(58.9,282.2) rotate(-90)"><text x="0" y="0" font-size="14" font-weight="bold">R</text><text x="10.0" y="4.4" font-size="8.6" font-weight="bold">side</text><text x="45.7" y="-0.3" font-size="13.2" font-weight="bold">[fm]</text></g>
<g transform="translate(58.9,497.0) rotate(-90)"><text x="0" y="0" font-size="14" font-weight="bold">R</text><text x="9.4" y="4.4" font-size="9.4" font-weight="bold">out</text><text x="27.4" y="-0.4" font-size="12" font-weight="bold">,</text><text x="34" y="0" font-size="14" font-weight="bold">R</text><text x="44.2" y="6.0" font-size="8.9" font-weight="bold">long</text><text x="81.7" y="-0.3" font-size="13.2" font-weight="bold">[fm]</text></g>
<text x="288.60" y="227.80" font-size="9.3" font-weight="bold" text-anchor="start" >ALICE Data</text>
<text x="289.60" y="239.80" font-size="9.3" font-weight="bold" text-anchor="start" >p-p 900GeV</text>
<text x="289.60" y="253.30" font-size="9.3" font-weight="bold" text-anchor="start" >p-p 7TeV</text>
<text x="289.60" y="265.70" font-size="9.3" font-weight="bold" text-anchor="start" >Pb-Pb 2.76TeV</text>
<text x="288.60" y="303.80" font-size="9.3" font-weight="bold" text-anchor="start" >STAR Data</text>
<text x="289.60" y="317.60" font-size="9.3" font-weight="bold" text-anchor="start" >Cu-Cu 62.4GeV</text>
<text x="289.60" y="330.00" font-size="9.3" font-weight="bold" text-anchor="start" >Cu-Cu 200GeV</text>
<text x="289.60" y="343.00" font-size="9.3" font-weight="bold" text-anchor="start" >Au-Au 62.4GeV</text>
<text x="289.60" y="355.80" font-size="9.3" font-weight="bold" text-anchor="start" >Au-Au 200GeV</text>
<text x="380.40" y="227.80" font-size="9.3" font-weight="bold" text-anchor="start" >hydro model</text>
<text x="380.80" y="239.80" font-size="9.3" font-weight="bold" text-anchor="start" >p-Pb 5.02TeV</text>
<text x="381.00" y="253.30" font-size="9.3" font-weight="bold" text-anchor="start" >p-p 7TeV</text>
<text x="381.00" y="266.00" font-size="9.3" font-weight="bold" text-anchor="start" >Au-Au 200GeV</text>
<text x="381.00" y="278.50" font-size="9.3" font-weight="bold" text-anchor="start" >Cu-Au 200GeV</text>
<text x="381.00" y="291.20" font-size="9.3" font-weight="bold" text-anchor="start" >Pb-Pb 2.76TeV</text>
</g>
<rect x="281.10" y="234.40" width="6.4" height="6.4" fill="none" stroke="#00ff00" stroke-width="1"/>
<rect x="280.80" y="247.30" width="6.4" height="6.4" fill="#00ff00"/>
<polygon points="284.10,260.00 287.40,266.80 280.80,266.80" fill="#0000ff"/>
<polygon points="284.00,311.80 286.25,315.10 284.00,318.40 281.75,315.10" fill="none" stroke="#ff00ff" stroke-width="0.9"/>
<polygon points="283.00,325.60 285.00,325.60 285.00,327.30 286.70,327.30 286.70,329.30 285.00,329.30 285.00,331.00 283.00,331.00 283.00,329.30 281.30,329.30 281.30,327.30 283.00,327.30" fill="none" stroke="#8a6355" stroke-width="0.8"/>
<polygon points="284.00,344.25 287.25,337.75 280.75,337.75" fill="#00ffff"/>
<circle cx="284.00" cy="354.00" r="2.8" fill="#ff0000"/>
<polygon points="367.50,234.40 368.39,236.78 370.92,236.89 368.94,238.47 369.62,240.91 367.50,239.51 365.38,240.91 366.06,238.47 364.08,236.89 366.61,236.78" fill="#000"/>
<circle cx="375.40" cy="237.80" r="3.2" fill="none" stroke="#ff0000" stroke-width="1"/>
<polygon points="375.40,234.50 376.24,236.74 378.63,236.85 376.76,238.34 377.40,240.65 375.40,239.33 373.40,240.65 374.04,238.34 372.17,236.85 374.56,236.74" fill="#000"/>
<polygon points="374.00,247.70 376.60,247.70 376.60,249.80 378.70,249.80 378.70,252.40 376.60,252.40 376.60,254.50 374.00,254.50 374.00,252.40 371.90,252.40 371.90,249.80 374.00,249.80" fill="#000"/>
<polygon points="375.50,259.40 378.20,263.60 375.50,267.80 372.80,263.60" fill="#000"/>
<polygon points="375.40,272.90 378.80,279.70 372.00,279.70" fill="none" stroke="#000" stroke-width="0.8"/>
<polygon points="375.40,284.80 376.34,287.71 379.39,287.70 376.92,289.49 377.87,292.40 375.40,290.60 372.93,292.40 373.88,289.49 371.41,287.70 374.46,287.71" fill="none" stroke="#000" stroke-width="0.8"/>
</svg>
</body></html>
